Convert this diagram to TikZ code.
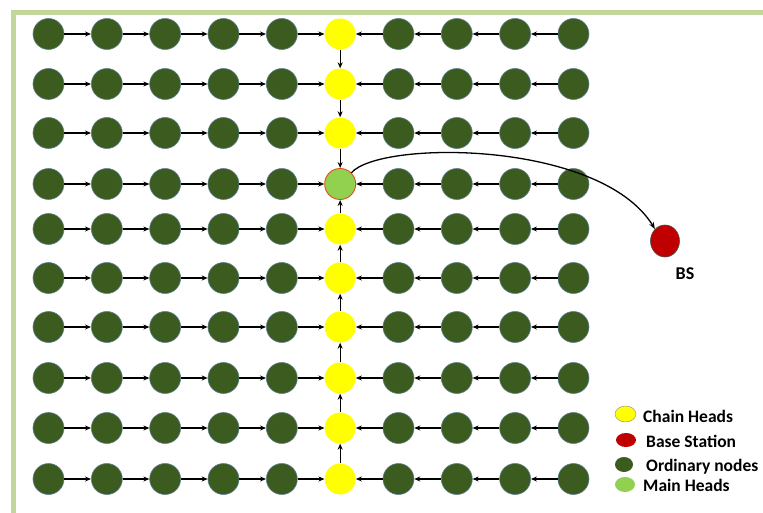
\documentclass[tikz,border=0pt]{standalone}
\usepackage{fontspec}
\setmainfont{Carlito}
\usetikzlibrary{arrows.meta,shapes.geometric}
\definecolor{frame}{HTML}{C3D69B}
\definecolor{ordg}{HTML}{3C5B1F}
\definecolor{ordedge}{HTML}{5F7F8F}
\definecolor{chy}{HTML}{FFFF00}
\definecolor{mainh}{HTML}{92D050}
\definecolor{mainedge}{HTML}{E0501A}
\definecolor{bsred}{HTML}{C00000}
\tikzset{
  ord/.style={circle,fill=ordg,draw=ordedge,line width=0.6pt,minimum size=31pt,inner sep=0pt},
  chead/.style={circle,fill=chy,minimum size=31pt,inner sep=0pt},
  mhead/.style={circle,fill=mainh,draw=mainedge,line width=0.9pt,minimum size=31pt,inner sep=0pt},
  link/.style={line width=1.3pt,-{Stealth[length=6pt,width=5pt]}},
  legtext/.style={anchor=west,inner sep=0pt,font=\fontsize{17.5}{18}\selectfont\bfseries}
}
\begin{document}
\begin{tikzpicture}[x=1pt,y=-1pt]
\useasboundingbox (0,0) rectangle (763,513);
\fill[white] (0,0) rectangle (763,513);
% frame
\draw[frame,line width=5pt] (13,513) -- (13,12.5) -- (763,12.5);
% grid nodes
\foreach \r/\y in {1/34,2/84,3/133,4/184,5/229,6/278,7/327,8/378,9/428,10/479}{
  \foreach \c in {1,...,10}{
    \pgfmathsetmacro{\xx}{48.5+58.33*(\c-1)}
    \ifnum\c=6
      \ifnum\r=4
        \node[mhead] (n-\r-\c) at (\xx,\y) {};
      \else
        \node[chead] (n-\r-\c) at (\xx,\y) {};
      \fi
    \else
      \node[ord] (n-\r-\c) at (\xx,\y) {};
    \fi
  }
}
% horizontal links
\foreach \r in {1,...,10}{
  \foreach \c [evaluate=\c as \cn using int(\c+1)] in {1,...,5}{
    \draw[link] (n-\r-\c) -- (n-\r-\cn);
  }
  \foreach \c [evaluate=\c as \cn using int(\c-1)] in {7,...,10}{
    \draw[link] (n-\r-\c) -- (n-\r-\cn);
  }
}
% vertical links
\foreach \r [evaluate=\r as \rn using int(\r+1)] in {1,2,3}{
  \draw[link] (n-\r-6) -- (n-\rn-6);
}
\foreach \r [evaluate=\r as \rn using int(\r-1)] in {5,...,10}{
  \draw[link] (n-\r-6) -- (n-\rn-6);
}
% base station
\node[ellipse,fill=bsred,draw=black!70,line width=0.6pt,minimum width=29pt,minimum height=32pt,inner sep=0pt] (bs) at (665,241) {};
\node[inner sep=0pt,font=\fontsize{18}{18}\selectfont\bfseries] (bslabel) at (685,274) {BS};
\draw[line width=1.3pt,-{Stealth[length=7pt,width=5pt]}] (n-4-6.45) .. controls (380,140) and (600,140) .. (bs.130);
% legend
\node[ellipse,fill=chy,draw=black!40,line width=0.5pt,minimum width=21pt,minimum height=16pt,inner sep=0pt] (l1) at (625.5,414) {};
\node[ellipse,fill=bsred,minimum width=20pt,minimum height=14pt,inner sep=0pt] (l2) at (626,440) {};
\node[ellipse,fill=ordg,minimum width=18pt,minimum height=15pt,inner sep=0pt] (l3) at (624,464.5) {};
\node[ellipse,fill=mainh,minimum width=20pt,minimum height=15pt,inner sep=0pt] (l4) at (625,484.5) {};
\node[legtext] (t1) at (643,416) {Chain Heads};
\node[legtext] (t2) at (646,441) {Base Station};
\node[legtext] (t3) at (646,467) {Ordinary nodes};
\node[legtext] (t4) at (643,485) {Main Heads};
\end{tikzpicture}
\end{document}
